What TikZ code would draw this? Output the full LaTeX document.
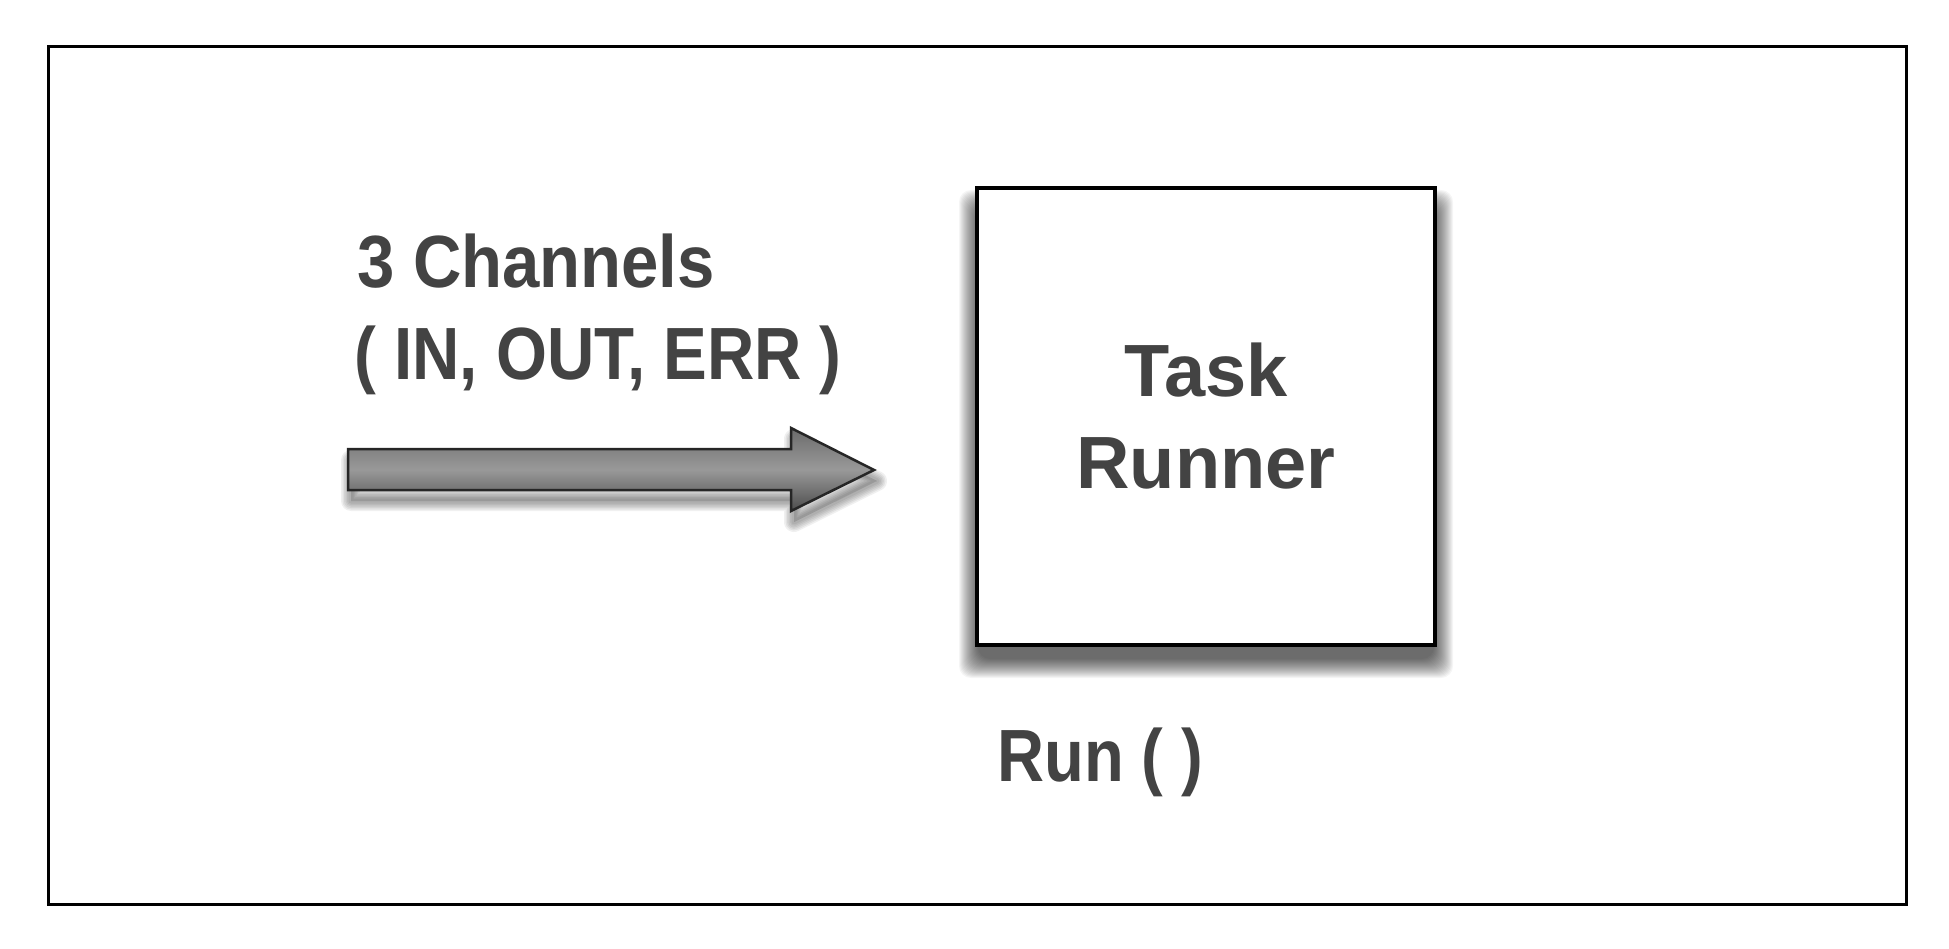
\documentclass[tikz,border=0pt]{standalone}
\usepackage{fontspec}
\setmainfont{Liberation Sans}
\definecolor{txt}{HTML}{434343}
\begin{document}
\begin{tikzpicture}[x=1pt,y=-1pt,
  lbl/.style={text=txt, font=\fontsize{74}{92}\selectfont\bfseries, inner sep=0pt},
  frame/.style={draw=black, line width=3pt},
  runbox/.style={draw=black, line width=3.5pt, fill=white, minimum width=458pt, minimum height=457pt,
     align=center, text=txt, font=\fontsize{74}{92}\selectfont\bfseries},
  shadowlayer/.style={fill=black, fill opacity=0.04},
  arrowshadow/.style={draw=black, draw opacity=0.06, line join=round, fill=black, fill opacity=0.02},
  blockarrow/.style={draw=black!85, line width=2.5pt, line join=miter,
     top color=black!58, bottom color=black!70, middle color=black!40}]
\useasboundingbox[fill=white] (0,0) rectangle (1949,949);
\draw[frame] (48,47) rectangle (1906,904);
% box shadow
\foreach \i in {0,...,19}
  \fill[shadowlayer, rounded corners=12pt] (959+\i,190+\i) rectangle (1453-\i,678-\i);
\node[runbox] (runner) at (1206,416.5) {Task\\Runner};
% arrow shadow
\foreach \w in {20,17,14,11,8,5}
  \draw[arrowshadow, line width=\w pt, shift={(3,11)}] (348,449) -- (791,449) -- (791,428) -- (874,470) -- (791,511) -- (791,490) -- (348,490) -- cycle;
\path[blockarrow] (348,449) -- (791,449) -- (791,428) -- (874,470) -- (791,511) -- (791,490) -- (348,490) -- cycle;
\node[lbl, anchor=base west] (ch1) at (357,288) {\scalebox{0.906}[1]{3 Channels}};
\node[lbl, anchor=base west] (ch2) at (354,380) {\scalebox{0.885}[1]{( IN, OUT, ERR )}};
\node[lbl, anchor=base west] (run) at (997,781) {\scalebox{0.88}[1]{Run ( )}};
\end{tikzpicture}
\end{document}
